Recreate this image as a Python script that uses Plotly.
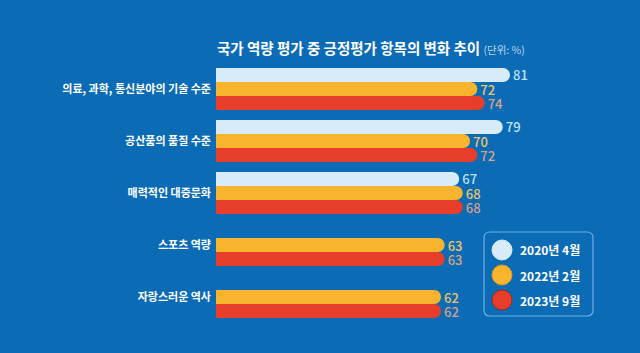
import plotly.graph_objects as go

categories = ["의료, 과학, 통신분야의 기술 수준", "공산품의 품질 수준", "매력적인 대중문화", "스포츠 역량", "자랑스러운 역사"]
series_names = ["2020년 4월", "2022년 2월", "2023년 9월"]
values_2020 = [81, 79, 67, None, None]
values_2022 = [72, 70, 68, 63, 62]
values_2023 = [74, 72, 68, 63, 62]

bar_colors = ["#d7ecf8", "#f8b42c", "#e63e2b"]
label_colors = ["#bfe2f6", "#eec46c", "#d9a18c"]
outline_colors = ["#d7ecf8", "#d99a20", "#a8291e"]
BG = "#0b6bb4"
W, H = 640, 353
FONT = "Noto Sans CJK KR"

fig = go.Figure()
for name, vals, c, lc in zip(series_names, [values_2020, values_2022, values_2023], bar_colors, label_colors):
    fig.add_trace(go.Bar(
        y=categories, x=vals, orientation="h", name=name,
        marker=dict(color=c, line=dict(width=0), cornerradius=7),
        text=[("" if v is None else str(v)) for v in vals],
        textposition="outside", cliponaxis=False, constraintext="none",
        textfont=dict(color=lc, size=13, family=FONT, weight=500),
        showlegend=False, hoverinfo="skip",
    ))

def px(x):
    return x / W

def py(y):
    return 1 - y / H

top_px, bot_px = 63, 323
fig.update_layout(
    width=W, height=H,
    margin=dict(l=0, r=0, t=0, b=0),
    paper_bgcolor=BG, plot_bgcolor=BG,
    barmode="group", bargap=0.19, bargroupgap=0,
    xaxis=dict(domain=[216 / W, 1], range=[0, (W - 216) / 3.63], visible=False, showgrid=False, zeroline=False),
    yaxis=dict(domain=[py(bot_px), py(top_px)], type="category", range=[4.5, -0.5],
               showgrid=False, zeroline=False, showline=False, ticks="", ticklabelstandoff=4,
               tickfont=dict(color="white", size=11, family=FONT, weight="bold")),
    font=dict(family=FONT),
)

# Title
fig.add_annotation(
    x=px(215), y=py(47), xref="paper", yref="paper", xanchor="left", yanchor="middle",
    text="<b>국가 역량 평가 중 긍정평가 항목의 변화 추이</b> <span style='font-size:10.5px;color:#b9d7ef'>(단위: %)</span>",
    showarrow=False, font=dict(color="white", size=14.5, family=FONT),
)

# Legend box (rounded)
x0, x1, y0, y1, r = 484, 593, 232, 316, 6
rx, ry = r / W, r / H
path = (f"M {px(x0)+rx},{py(y0)} L {px(x1)-rx},{py(y0)} Q {px(x1)},{py(y0)} {px(x1)},{py(y0)-ry} "
        f"L {px(x1)},{py(y1)+ry} Q {px(x1)},{py(y1)} {px(x1)-rx},{py(y1)} "
        f"L {px(x0)+rx},{py(y1)} Q {px(x0)},{py(y1)} {px(x0)},{py(y1)+ry} "
        f"L {px(x0)},{py(y0)-ry} Q {px(x0)},{py(y0)} {px(x0)+rx},{py(y0)} Z")
fig.add_shape(type="path", path=path, xref="paper", yref="paper",
              line=dict(color="#6fb0e2", width=1.2), fillcolor="rgba(0,0,0,0)")

for i, (name, c, oc) in enumerate(zip(series_names, bar_colors, outline_colors)):
    cy = 250 + i * 25
    cx, rr = 502, 10
    fig.add_shape(type="circle", xref="paper", yref="paper",
                  x0=px(cx - rr), x1=px(cx + rr), y0=py(cy + rr), y1=py(cy - rr),
                  fillcolor=c, line=dict(color=oc, width=1))
    fig.add_annotation(x=px(518), y=py(cy), xref="paper", yref="paper", xanchor="left", yanchor="middle",
                       text=f"<b>{name}</b>", showarrow=False, font=dict(color="white", size=12, family=FONT))

fig.write_html("out.html")
